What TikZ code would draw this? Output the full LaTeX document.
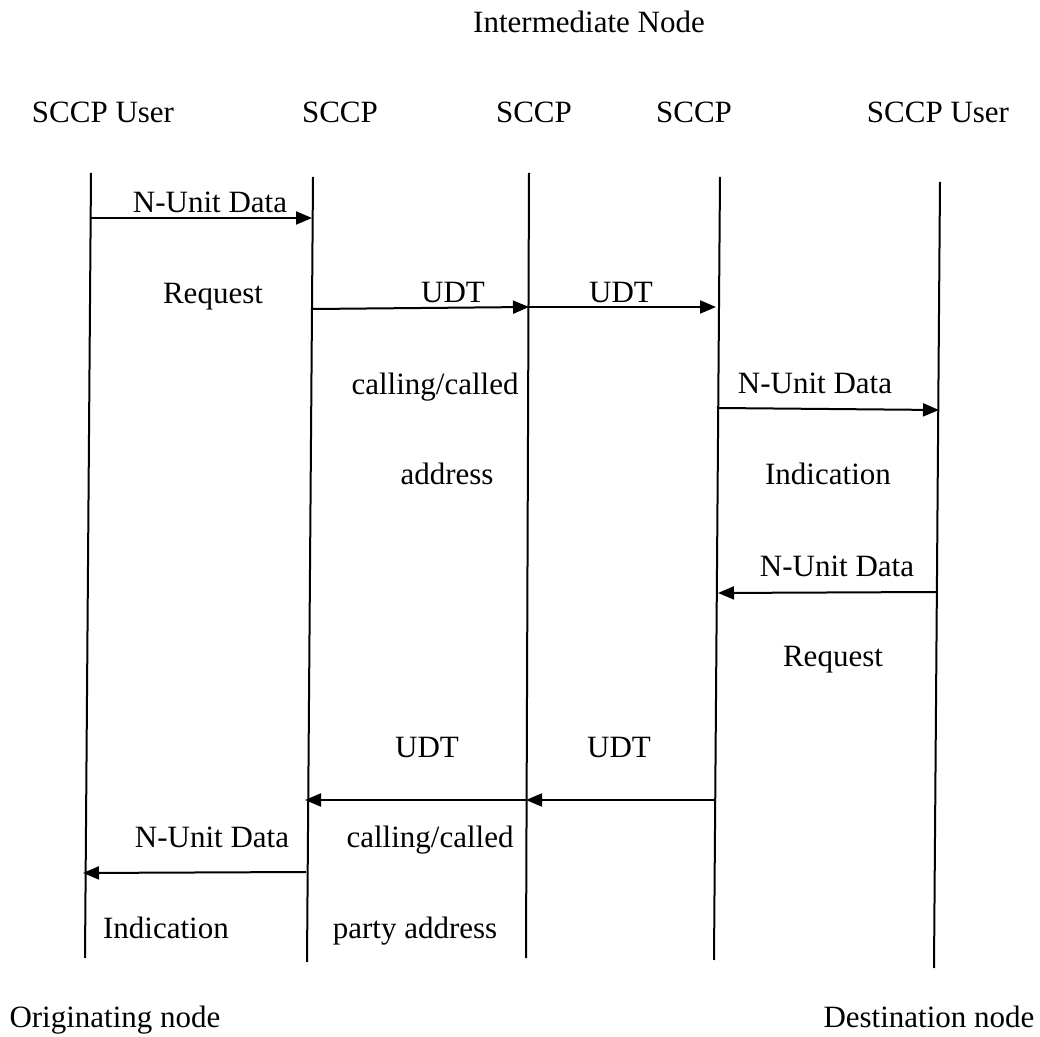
\documentclass[tikz,border=0pt]{standalone}
\usepackage{fontspec}
\setmainfont{Liberation Serif}
\usetikzlibrary{arrows.meta}
\begin{document}
\begin{tikzpicture}[x=0.5pt,y=-0.5pt,
  lifeline/.style={line width=1pt},
  msg/.style={line width=1pt,-{Triangle[length=8pt,width=6.5pt]}},
  lbl/.style={anchor=base,inner sep=0pt,font=\fontsize{15.5}{18}\selectfont}]
\useasboundingbox (0,0) rectangle (1040,1037);

% lifelines
\coordinate (u1t) at (91,173);  \coordinate (u1b) at (85,958);
\coordinate (s1t) at (313,177); \coordinate (s1b) at (307,962);
\coordinate (s2t) at (529,173); \coordinate (s2b) at (526,958);
\coordinate (s3t) at (720,177); \coordinate (s3b) at (714,960);
\coordinate (u2t) at (940,182); \coordinate (u2b) at (934,968);
\foreach \l in {u1,s1,s2,s3,u2} \draw[lifeline] (\l t) -- (\l b);

% headings
\node[lbl] (inter) at (589,33) {Intermediate Node};
\node[lbl] (h1) at (103,123) {SCCP User};
\node[lbl] (h2) at (340,123) {SCCP};
\node[lbl] (h3) at (534,123) {SCCP};
\node[lbl] (h4) at (694,123) {SCCP};
\node[lbl] (h5) at (938,123) {SCCP User};
\node[lbl] (orig) at (115,1027) {Originating node};
\node[lbl] (dest) at (929,1027) {Destination node};

% message end points
\coordinate (a1s) at (91,218);  \coordinate (a1e) at (312,218);
\coordinate (a2s) at (313,309); \coordinate (a2e) at (529,307);
\coordinate (a3e) at (716,307);
\coordinate (a4s) at (718,408); \coordinate (a4e) at (939,410);
\coordinate (a5s) at (936,592); \coordinate (a5e) at (718,593);
\coordinate (a6s) at (715,800); \coordinate (a6m) at (526,800);
\coordinate (a6e) at (305,800);
\coordinate (a7s) at (306,872); \coordinate (a7e) at (83,873);

\draw[msg] (a1s) -- (a1e);
\draw[msg] (a2s) -- (a2e);
\draw[msg] (a2e) -- (a3e);
\draw[msg] (a4s) -- (a4e);
\draw[msg] (a5s) -- (a5e);
\draw[msg] (a6s) -- (a6m);
\draw[msg] (a6m) -- (a6e);
\draw[msg] (a7s) -- (a7e);

% message labels
\node[lbl] (t1) at (210,213) {N-Unit Data};
\node[lbl] (t2) at (213,304) {Request};
\node[lbl] (t3) at (453,303) {UDT};
\node[lbl] (t4) at (621,303) {UDT};
\node[lbl] (t5) at (435,395) {calling/called};
\node[lbl] (t6) at (447,485) {address};
\node[lbl] (t7) at (815,394) {N-Unit Data};
\node[lbl] (t8) at (828,485) {Indication};
\node[lbl] (t9) at (837,577) {N-Unit Data};
\node[lbl] (t10) at (833,667) {Request};
\node[lbl] (t11) at (427,757) {UDT};
\node[lbl] (t12) at (619,757) {UDT};
\node[lbl] (t13) at (212,848) {N-Unit Data};
\node[lbl] (t14) at (430,848) {calling/called};
\node[lbl] (t15) at (166,938) {Indication};
\node[lbl] (t16) at (415,938) {party address};
\end{tikzpicture}
\end{document}
